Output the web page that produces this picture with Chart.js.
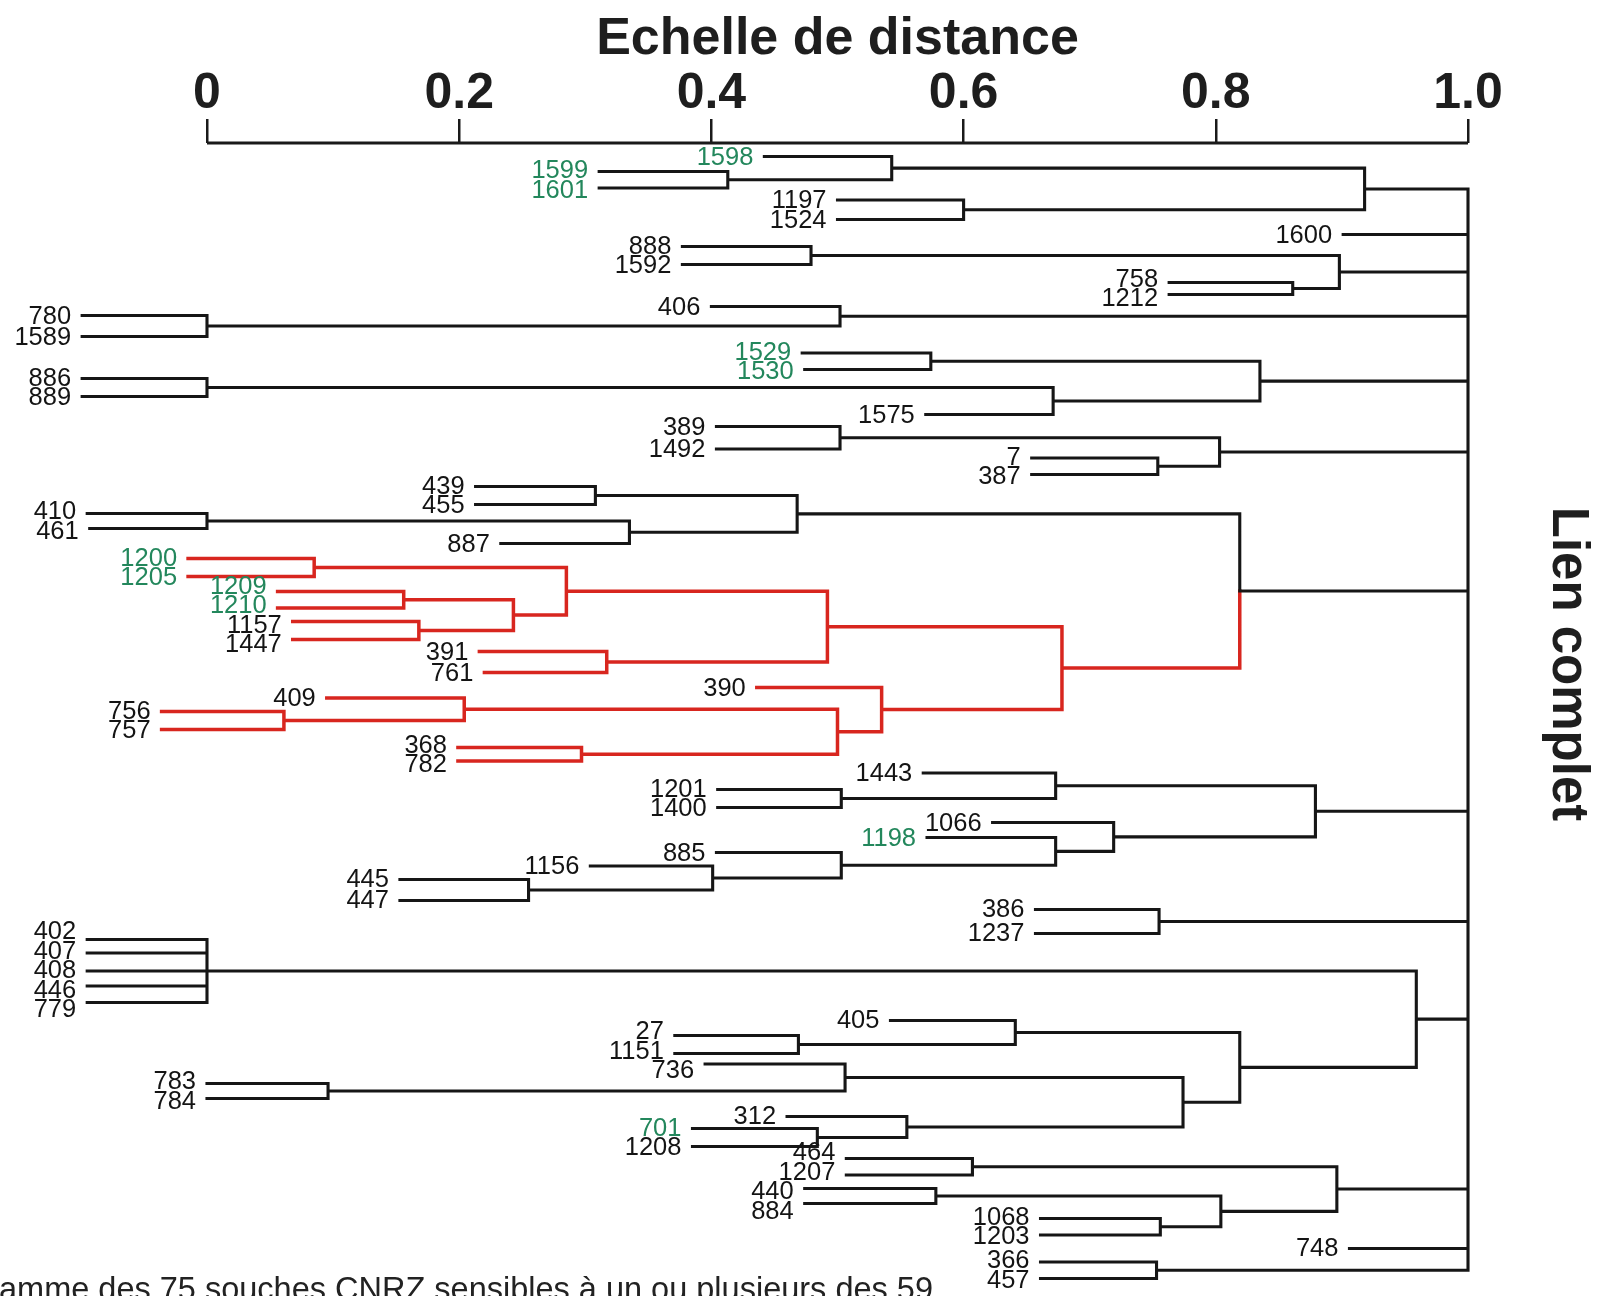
<!DOCTYPE html>
<html>
<head>
<meta charset="utf-8">
<title>Dendrogramme - Lien complet</title>
<script src="https://cdn.jsdelivr.net/npm/chart.js@4.4.1/dist/chart.umd.min.js"></script>
<style>
  html, body { margin: 0; padding: 0; background: #fff; }
  #wrap { width: 1602px; height: 1296px; position: relative; }
</style>
</head>
<body>
<div id="wrap"><canvas id="tree"></canvas></div>
<script>
const FONT = '"Liberation Sans", Arial, Helvetica, sans-serif';

// souches (feuilles), de haut en bas
const leafNames = [
  '1598', '1599', '1601', '1197', '1524', '1600', '888', '1592', '758', '1212',
  '406', '780', '1589', '1529', '1530', '886', '889', '1575', '389', '1492',
  '7', '387', '439', '455', '410', '461', '887', '1200', '1205', '1209',
  '1210', '1157', '1447', '391', '761', '390', '409', '756', '757', '368',
  '782', '1443', '1201', '1400', '1066', '1198', '885', '1156', '445', '447',
  '386', '1237', '402', '407', '408', '446', '779', '405', '27', '1151',
  '736', '783', '784', '312', '701', '1208', '464', '1207', '440', '884',
  '1068', '1203', '748', '366', '457'
];
// rang vertical de chaque feuille
const leafRows = [
  0.9, 1.9, 3.0, 3.8, 5.1, 6.1, 6.9, 8.1, 9.3, 10.1,
  10.9, 11.5, 12.9, 14.0, 15.1, 15.7, 16.9, 18.1, 18.9, 20.4,
  21.0, 22.1, 22.9, 24.1, 24.7, 25.7, 26.7, 27.7, 28.9, 29.9,
  31.0, 31.9, 33.1, 33.9, 35.3, 36.3, 37.0, 37.9, 39.1, 40.3,
  41.2, 42.0, 43.1, 44.3, 45.3, 46.3, 47.3, 48.2, 49.1, 50.5,
  51.1, 52.7, 53.1, 54.0, 55.2, 56.2, 57.3, 58.5, 59.5, 60.7,
  61.4, 62.7, 63.7, 64.9, 65.7, 66.9, 67.7, 68.8, 69.7, 70.7,
  71.7, 72.8, 73.7, 74.6, 75.7
];
// distance où commence le trait de chaque feuille
const leafStarts = [
  0.442, 0.311, 0.311, 0.500, 0.500, 0.901, 0.377, 0.377, 0.763, 0.763,
  0.400, -0.099, -0.099, 0.472, 0.474, -0.099, -0.099, 0.570, 0.404, 0.404,
  0.654, 0.654, 0.213, 0.213, -0.095, -0.093, 0.233, -0.015, -0.015, 0.056,
  0.056, 0.068, 0.068, 0.216, 0.220, 0.436, 0.095, -0.036, -0.036, 0.199,
  0.199, 0.568, 0.405, 0.405, 0.623, 0.571, 0.404, 0.304, 0.153, 0.153,
  0.657, 0.657, -0.095, -0.095, -0.095, -0.095, -0.095, 0.542, 0.371, 0.371,
  0.395, 0.0, 0.0, 0.460, 0.385, 0.385, 0.507, 0.507, 0.474, 0.474,
  0.661, 0.661, 0.906, 0.661, 0.661
];
const greenLeaves = ['1598', '1599', '1601', '1529', '1530', '1200', '1205', '1209', '1210', '1198', '701'];
const redLeaves = ['1200', '1205', '1209', '1210', '1157', '1447', '391', '761', '390', '409', '756', '757', '368', '782'];

// fusions : identifiant, enfants, distance
const nodeIds = [
  'n1', 'n2', 'n3', 'n4', 'n5', 'n6', 'n7', 'n8', 'n9', 'n10',
  'n11', 'n12', 'n13', 'n14', 'n15', 'n16', 'n17', 'n18', 'n19', 'n20',
  'r1', 'r2', 'r3', 'r4', 'r5', 'r6', 'r7', 'r8', 'r9', 'r10', 'r11', 'r12', 'r13',
  'n21', 'n22', 'n23', 'n24', 'n25', 'n26', 'n27', 'n28', 'n29', 'n30',
  'n31', 'n32', 'n33', 'n34', 'n35', 'n36', 'n37', 'n38', 'n39', 'n40',
  'n41', 'n42', 'n43', 'n44', 'n45', 'n46', 'root'
];
const nodeChildren = [
  ['1599', '1601'], ['1598', 'n1'], ['1197', '1524'], ['n2', 'n3'], ['888', '1592'],
  ['758', '1212'], ['n5', 'n6'], ['780', '1589'], ['406', 'n8'], ['1529', '1530'],
  ['886', '889'], ['n11', '1575'], ['n10', 'n12'], ['389', '1492'], ['7', '387'],
  ['n14', 'n15'], ['439', '455'], ['410', '461'], ['n18', '887'], ['n17', 'n19'],
  ['1200', '1205'], ['1209', '1210'], ['1157', '1447'], ['r2', 'r3'], ['r1', 'r4'],
  ['391', '761'], ['r5', 'r6'], ['756', '757'], ['409', 'r8'], ['368', '782'],
  ['r9', 'r10'], ['390', 'r11'], ['r7', 'r12'],
  ['n20', 'r13'], ['1201', '1400'], ['1443', 'n22'], ['445', '447'], ['1156', 'n24'],
  ['885', 'n25'], ['1198', 'n26'], ['1066', 'n27'], ['n23', 'n28'], ['386', '1237'],
  ['402', '407', '408', '446', '779'], ['27', '1151'], ['405', 'n32'], ['783', '784'], ['736', 'n34'],
  ['701', '1208'], ['312', 'n36'], ['n35', 'n37'], ['n33', 'n38'], ['n31', 'n39'],
  ['464', '1207'], ['440', '884'], ['1068', '1203'], ['n42', 'n43'], ['n41', 'n44'],
  ['366', '457'],
  ['n4', '1600', 'n7', 'n9', 'n13', 'n16', 'n21', 'n29', 'n30', 'n40', 'n45', '748', 'n46']
];
const nodeHeights = [
  0.413, 0.543, 0.600, 0.918, 0.479, 0.861, 0.898, 0.0, 0.502, 0.574,
  0.0, 0.671, 0.835, 0.502, 0.754, 0.803, 0.308, 0.0, 0.335, 0.468,
  0.085, 0.156, 0.168, 0.243, 0.285, 0.317, 0.492, 0.061, 0.204, 0.297, 0.500, 0.535, 0.678,
  0.819, 0.503, 0.673, 0.255, 0.401, 0.503, 0.673, 0.719, 0.879, 0.755,
  0.0, 0.469, 0.641, 0.096, 0.506, 0.484, 0.555, 0.774, 0.819, 0.959,
  0.607, 0.578, 0.756, 0.804, 0.896, 0.753, 1.0
];
const redNodes = ['r1', 'r2', 'r3', 'r4', 'r5', 'r6', 'r7', 'r8', 'r9', 'r10', 'r11', 'r12', 'r13'];

// échelle de distance
const tickValues = [0, 0.2, 0.4, 0.6, 0.8, 1.0];
const tickLabels = ['0', '0.2', '0.4', '0.6', '0.8', '1.0'];

// construire les segments du dendrogramme
const pos = {};
leafNames.forEach((name, i) => {
  pos[name] = { x: leafStarts[i], y: leafRows[i], red: redLeaves.includes(name) };
});

const blackPts = [];
const redPts = [];
function addSeg(arr, x1, y1, x2, y2) {
  arr.push({ x: x1, y: y1 }, { x: x2, y: y2 }, { x: null, y: null });
}

nodeIds.forEach((id, i) => {
  const kids = nodeChildren[i].map(k => pos[k]);
  const h = nodeHeights[i];
  const ys = kids.map(k => k.y);
  const stem = (Math.min(...ys) + Math.max(...ys)) / 2;
  kids.forEach(k => {
    const arr = k.red ? redPts : blackPts;
    addSeg(arr, k.x, k.y, h, k.y);   // horizontal
    addSeg(arr, h, stem, h, k.y);    // vertical
  });
  pos[id] = { x: h, y: stem, red: redNodes.includes(id) };
});

// ligne de l'axe
const axisPts = [
  { x: tickValues[0], y: 0 },
  { x: tickValues[tickValues.length - 1], y: 0 }
];

// écartement des étiquettes trop proches (comme sur la figure)
function spreadLabels(ctx, x, y) {
  const MIN_GAP = 19.5;
  const items = leafNames.map((name, i) => {
    const right = x.getPixelForValue(leafStarts[i]) - 11;
    return { left: right - ctx.measureText(name).width, right, y: y.getPixelForValue(leafRows[i]) };
  });
  for (let it = 0; it < 40; it++) {
    for (let i = 0; i < items.length; i++) {
      for (let j = i + 1; j < items.length; j++) {
        const a = items[i], b = items[j];
        if (a.right < b.left || b.right < a.left) continue;
        const d = b.y - a.y;
        if (d >= 0 && d < MIN_GAP) {
          const push = (MIN_GAP - d) / 2;
          a.y -= push;
          b.y += push;
        }
      }
    }
  }
  return items;
}

// textes : noms des souches, titres
const textPlugin = {
  id: 'textes',
  afterDatasetsDraw(chart) {
    const { ctx } = chart;
    const x = chart.scales.x;
    const y = chart.scales.y;
    ctx.save();
    ctx.font = '25.5px ' + FONT;
    ctx.textAlign = 'right';
    ctx.textBaseline = 'middle';
    const items = spreadLabels(ctx, x, y);
    leafNames.forEach((name, i) => {
      ctx.fillStyle = greenLeaves.includes(name) ? '#23875c' : '#141414';
      ctx.fillText(name, items[i].right, items[i].y + 1);
    });

    ctx.fillStyle = '#1e1e1e';
    ctx.font = 'bold 52px ' + FONT;
    ctx.textAlign = 'center';
    ctx.textBaseline = 'alphabetic';
    ctx.fillText('Echelle de distance', x.getPixelForValue(0.5), 54);

    // texte coupé en bas de l'image
    ctx.font = '32.5px ' + FONT;
    ctx.textAlign = 'left';
    ctx.fillStyle = '#222';
    ctx.fillText('amme des 75 souches CNRZ sensibles à un ou plusieurs des 59', -1, 1300);

    ctx.translate(chart.width - 49, 664);
    ctx.rotate(Math.PI / 2);
    ctx.font = 'bold 51px ' + FONT;
    ctx.textAlign = 'center';
    ctx.fillStyle = '#1e1e1e';
    ctx.fillText('Lien complet', 0, 0);
    ctx.restore();
  }
};

const lineDefaults = {
  showLine: true,
  pointRadius: 0,
  pointHoverRadius: 0,
  spanGaps: false,
  tension: 0,
  fill: false
};

new Chart(document.getElementById('tree'), {
  type: 'scatter',
  data: {
    datasets: [
      { ...lineDefaults, label: 'axe', data: axisPts, borderColor: '#1a1a1a', borderWidth: 3, clip: false },
      { ...lineDefaults, label: 'noir', data: blackPts, borderColor: '#161616', borderWidth: 3.1, borderCapStyle: 'square' },
      { ...lineDefaults, label: 'rouge', data: redPts, borderColor: '#d8261f', borderWidth: 3.5, borderCapStyle: 'square' }
    ]
  },
  options: {
    responsive: true,
    maintainAspectRatio: false,
    animation: false,
    devicePixelRatio: 1,
    events: [],
    layout: { padding: { top: 69, left: 0, right: 0, bottom: 0 } },
    plugins: {
      legend: { display: false },
      tooltip: { enabled: false },
      title: { display: false }
    },
    scales: {
      x: {
        type: 'linear',
        position: 'top',
        min: -0.16415,
        max: 1.10626,
        afterBuildTicks: (scale) => {
          scale.ticks = tickValues.map(v => ({ value: v }));
        },
        ticks: {
          callback: (value, index) => tickLabels[index],
          font: { family: FONT, size: 50, weight: 'bold', lineHeight: 1 },
          color: '#1e1e1e',
          padding: 0,
          maxRotation: 0,
          autoSkip: false
        },
        grid: {
          drawOnChartArea: false,
          drawTicks: true,
          tickLength: 24,
          color: '#1a1a1a',
          lineWidth: 2.5
        },
        border: { display: false }
      },
      y: {
        type: 'linear',
        min: 0,
        max: 76.87,
        reverse: true,
        display: false
      }
    }
  },
  plugins: [textPlugin]
});
</script>
</body>
</html>
